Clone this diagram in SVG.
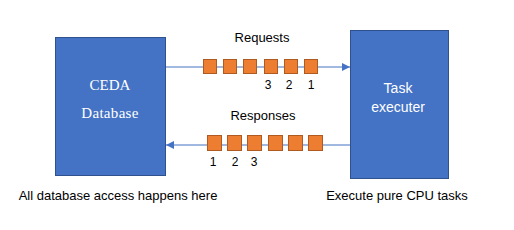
<svg xmlns="http://www.w3.org/2000/svg" width="514" height="230" viewBox="0 0 514 230">
<defs>
<marker id="ah" viewBox="0 0 10 10" refX="10" refY="5" markerWidth="8" markerHeight="8" markerUnits="userSpaceOnUse" orient="auto">
<path d="M0,0 L10,5 L0,10 z" fill="#4472C4"/>
</marker>
<style>
.box{fill:#4472C4;stroke:#2F528F;stroke-width:1}
.q{fill:#ED7D31;stroke:#AE5A21;stroke-width:1}
.ln{stroke:#4472C4;stroke-width:1.2;fill:none}
.t{font-family:"Liberation Sans",Arial,sans-serif;font-size:13px;fill:#000;text-anchor:middle}
.n{font-family:"Liberation Sans",Arial,sans-serif;font-size:12px;fill:#000;text-anchor:middle}
.w{font-family:"Liberation Sans",Arial,sans-serif;font-size:14px;fill:#fff;text-anchor:middle}
.s{font-family:"Liberation Serif","Times New Roman",serif;font-size:15px;fill:#fff;text-anchor:middle}
</style>
</defs>
<rect width="514" height="230" fill="#fff"/>
<g id="connectors">
<line class="ln" x1="166" y1="67" x2="350" y2="67" marker-end="url(#ah)"/>
<line class="ln" x1="350" y1="145" x2="166" y2="145" marker-end="url(#ah)"/>
</g>
<g id="ceda">
<rect class="box" x="55.5" y="37.5" width="110" height="138"/>
<text class="s" x="110" y="90">CEDA</text>
<text class="s" x="110" y="118" letter-spacing="0.3">Database</text>
</g>
<g id="task">
<rect class="box" x="350.5" y="30.5" width="98" height="148"/>
<text class="w" x="398" y="93">Task</text>
<text class="w" x="398" y="112">executer</text>
</g>
<g id="requests">
<text class="t" x="262" y="42">Requests</text>
<rect class="q" x="203.5" y="59.5" width="13" height="14"/>
<rect class="q" x="223.5" y="59.5" width="13" height="14"/>
<rect class="q" x="243.5" y="59.5" width="13" height="14"/>
<rect class="q" x="264.5" y="59.5" width="13" height="14"/>
<rect class="q" x="284.5" y="59.5" width="13" height="14"/>
<rect class="q" x="304.5" y="59.5" width="13" height="14"/>
<text class="n" x="268" y="89">3</text>
<text class="n" x="289" y="89">2</text>
<text class="n" x="311" y="89">1</text>
</g>
<g id="responses">
<text class="t" x="263" y="120">Responses</text>
<rect class="q" x="207.5" y="135.5" width="14" height="15"/>
<rect class="q" x="227.5" y="135.5" width="14" height="15"/>
<rect class="q" x="247.5" y="135.5" width="14" height="15"/>
<rect class="q" x="268.5" y="135.5" width="14" height="15"/>
<rect class="q" x="288.5" y="135.5" width="14" height="15"/>
<rect class="q" x="308.5" y="135.5" width="14" height="15"/>
<text class="n" x="213" y="166">1</text>
<text class="n" x="235" y="166">2</text>
<text class="n" x="254" y="166">3</text>
</g>
<g id="captions">
<text class="t" x="118" y="200">All database access happens here</text>
<text class="t" x="397" y="200">Execute pure CPU tasks</text>
</g>
</svg>
